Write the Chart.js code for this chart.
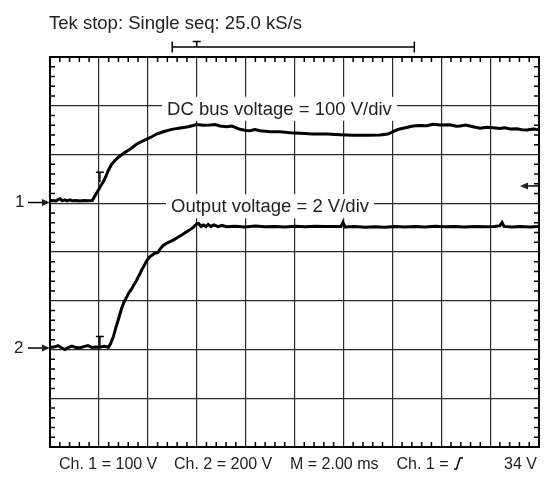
<!DOCTYPE html>
<html>
<head>
<meta charset="utf-8">
<script src="https://cdn.jsdelivr.net/npm/chart.js@4.4.1/dist/chart.umd.min.js"></script>
<style>
  body { margin: 0; background: #fff; }
  #wrap { width: 550px; height: 477px; }
</style>
</head>
<body>
<div id="wrap"><canvas id="scope" width="550" height="477"></canvas></div>
<script>
// Ch. 1: DC bus voltage (V) against time (ms), 2 ms/div
const ch1Time = [0.00, 0.12, 0.25, 0.33, 0.41, 0.49, 0.61, 0.70, 0.82, 0.90, 1.06, 1.23, 1.39, 1.55, 1.73,
  1.84, 1.98, 2.07, 2.18, 2.28, 2.38, 2.52, 2.70, 2.86, 3.07, 3.27, 3.55, 3.82, 4.09, 4.36, 4.63, 4.98,
  5.32, 5.66, 6.00, 6.27, 6.54, 6.75, 6.95, 7.23, 7.44, 7.77, 8.02, 8.18, 8.38, 8.59, 9.00, 9.41, 9.82,
  10.22, 10.76, 11.32, 11.86, 12.39, 12.95, 13.50, 13.82, 14.03, 14.23, 14.44, 14.85, 15.13, 15.42,
  15.66, 15.95, 16.36, 16.61, 16.77, 17.01, 17.30, 17.59, 17.87, 18.12, 18.40, 18.61, 18.81, 19.10,
  19.30, 19.51, 19.75, 20.00];
const ch1Volts = [3.7, 4.1, 3.1, 6.2, 7.6, 3.5, 5.5, 3.3, 5.3, 3.5, 4.1, 3.3, 4.3, 3.7, 4.1,
  13.9, 25.6, 33.8, 42.7, 52.9, 65.2, 78.3, 88.6, 95.4, 103.0, 109.1, 120.0, 126.8, 132.9, 140.5, 145.2, 150.1,
  152.8, 155.5, 160.0, 158.3, 159.0, 160.0, 156.9, 155.5, 156.9, 150.1, 147.7, 147.3, 149.7, 147.3, 145.2, 145.2, 143.2,
  141.9, 140.5, 140.5, 139.1, 137.8, 137.8, 138.4, 140.5, 145.2, 149.7, 152.2, 156.9, 157.9, 157.5,
  160.4, 159.0, 159.4, 156.3, 156.9, 159.0, 155.5, 152.2, 154.2, 153.4, 151.8, 153.2, 150.7, 151.4,
  149.1, 148.7, 150.7, 149.7];

// Ch. 2: output voltage (V) against time (ms)
const ch2Time = [0.00, 0.16, 0.33, 0.45, 0.61, 0.74, 0.90, 1.06, 1.23, 1.39, 1.55, 1.72, 1.88, 2.04, 2.21, 2.39,
  2.47, 2.59, 2.70, 2.79, 2.93, 3.03, 3.14, 3.23, 3.34, 3.44, 3.55, 3.64, 3.75, 3.84, 3.96, 4.09, 4.29,
  4.42, 4.50, 4.63, 4.77, 5.04, 5.32, 5.59, 5.86, 6.00, 6.08, 6.18, 6.27, 6.38, 6.47, 6.58, 6.71, 6.87,
  7.03, 7.23, 7.57, 7.98, 8.39, 8.79, 9.20, 9.61, 10.02, 10.43, 10.84, 11.25, 11.66, 11.90, 11.98, 12.07,
  12.47, 12.88, 13.29, 13.70, 14.11, 14.52, 14.93, 15.34, 15.75, 16.16, 16.56, 16.97, 17.38, 17.79,
  18.20, 18.40, 18.49, 18.57, 18.90, 19.22, 19.63, 20.00];
const ch2Volts = [0.03, 0.04, 0.10, 0.02, -0.06, 0.02, 0.08, 0.02, 0.01, 0.06, 0.10, 0.02, 0.04, 0.03, 0.07, 0.03,
  0.16, 0.46, 0.86, 1.15, 1.63, 1.89, 2.10, 2.28, 2.42, 2.61, 2.79, 2.97, 3.20, 3.36, 3.59, 3.75, 3.89,
  3.92, 4.06, 4.21, 4.30, 4.43, 4.60, 4.77, 4.95, 5.09, 5.11, 4.99, 5.05, 4.98, 5.07, 4.99, 5.05, 4.98,
  5.03, 4.98, 5.00, 4.97, 5.01, 4.98, 4.99, 4.97, 5.00, 4.98, 5.00, 4.99, 4.99, 4.99, 5.15, 4.97,
  4.99, 4.96, 4.98, 4.96, 4.99, 4.97, 4.99, 4.97, 5.00, 4.98, 4.99, 4.97, 4.99, 4.98,
  4.99, 5.02, 5.15, 4.99, 4.97, 4.99, 4.97, 4.99];

// screen: 10 x 8 divisions
const timeRange = [0, 20];          // ms
const ch1Range = [-501.5, 298.5];   // V, 100 V/div
const ch2Range = [-4.06, 11.94];    // V, 2 V/div

const triggerLevel = 34;            // V on Ch. 1
const triggerTime = 6;              // ms
const recordSpan = [5.0, 14.9];     // ms
const cursorTime = 2.04;            // ms
const ch1Cursor = 62;               // V
const ch2Cursor = 0.47;             // V

const headerText = 'Tek stop: Single seq: 25.0 kS/s';
const traceLabels = [
  { text: 'DC bus voltage = 100 V/div', t: 4.79, div: 7 },
  { text: 'Output voltage = 2 V/div', t: 4.95, div: 5 }
];
const footer = [
  { text: 'Ch. 1 = 100 V', x: 59 },
  { text: 'Ch. 2 = 200 V', x: 174 },
  { text: 'M = 2.00 ms', x: 290 },
  { text: 'Ch. 1 = ', x: 396.5, edge: true }
];
const footerLevel = '34 V';

const FONT = '"Liberation Sans", Arial, sans-serif';

function arrowRight(ctx, x0, x1, y) {
  ctx.beginPath();
  ctx.moveTo(x0, y); ctx.lineTo(x1 - 7, y); ctx.stroke();
  ctx.beginPath();
  ctx.moveTo(x1, y); ctx.lineTo(x1 - 8, y - 3.5); ctx.lineTo(x1 - 8, y + 3.5); ctx.closePath(); ctx.fill();
}

function arrowLeft(ctx, x0, x1, y) {
  ctx.beginPath();
  ctx.moveTo(x0 + 7, y); ctx.lineTo(x1, y); ctx.stroke();
  ctx.beginPath();
  ctx.moveTo(x0, y); ctx.lineTo(x0 + 8, y - 3.5); ctx.lineTo(x0 + 8, y + 3.5); ctx.closePath(); ctx.fill();
}

function tMark(ctx, x, y, len) {
  ctx.beginPath();
  ctx.moveTo(x - 4, y); ctx.lineTo(x + 4, y);
  ctx.moveTo(x, y); ctx.lineTo(x, y + len);
  ctx.stroke();
}

const scopeDecor = {
  id: 'scopeDecor',
  beforeDatasetsDraw(chart) {
    const { ctx, chartArea: a, scales: { x, y } } = chart;
    ctx.save();
    ctx.strokeStyle = '#000';
    ctx.lineWidth = 2;
    ctx.strokeRect(a.left, a.top, a.right - a.left, a.bottom - a.top);

    // minor ticks on the frame, 5 per division
    ctx.lineWidth = 1.5;
    ctx.beginPath();
    for (let i = 1; i < 50; i++) {
      if (i % 5 === 0) continue;
      const px = x.getPixelForValue(i * 0.4);
      ctx.moveTo(px, a.top); ctx.lineTo(px, a.top + 5);
      ctx.moveTo(px, a.bottom); ctx.lineTo(px, a.bottom - 5);
    }
    for (let i = 1; i < 40; i++) {
      if (i % 5 === 0) continue;
      const py = y.getPixelForValue(i * 0.2);
      ctx.moveTo(a.left, py); ctx.lineTo(a.left + 5, py);
      ctx.moveTo(a.right, py); ctx.lineTo(a.right - 5, py);
    }
    ctx.stroke();

    // trace labels sitting on the graticule lines
    ctx.font = '18.5px ' + FONT;
    ctx.textBaseline = 'alphabetic';
    traceLabels.forEach(l => {
      const w = ctx.measureText(l.text).width;
      const bx = x.getPixelForValue(l.t);
      const by = y.getPixelForValue(l.div) + 9;
      ctx.fillStyle = '#fff';
      ctx.fillRect(bx - 5, by - 18, w + 10, 24);
      ctx.fillStyle = '#222';
      ctx.fillText(l.text, bx, by);
    });
    ctx.restore();
  },
  afterDraw(chart) {
    const { ctx, chartArea: a, scales: { x, ch1, ch2 } } = chart;
    ctx.save();
    ctx.fillStyle = '#222';
    ctx.strokeStyle = '#000';
    ctx.lineWidth = 1.5;

    ctx.font = '18.5px ' + FONT;
    ctx.textBaseline = 'alphabetic';
    ctx.fillText(headerText, 49, 29);

    // record bar with trigger position
    const bx0 = x.getPixelForValue(recordSpan[0]);
    const bx1 = x.getPixelForValue(recordSpan[1]);
    ctx.beginPath();
    ctx.moveTo(bx0, 47); ctx.lineTo(bx1, 47);
    ctx.moveTo(bx0, 41.5); ctx.lineTo(bx0, 52.5);
    ctx.moveTo(bx1, 41.5); ctx.lineTo(bx1, 52.5);
    ctx.stroke();
    tMark(ctx, x.getPixelForValue(triggerTime), 41.5, 5.5);

    // channel ground markers
    ctx.font = '17px ' + FONT;
    ctx.textBaseline = 'middle';
    const g1 = ch1.getPixelForValue(0);
    const g2 = ch2.getPixelForValue(0);
    ctx.fillText('1', 15, g1);
    ctx.fillText('2', 14, g2);
    arrowRight(ctx, 28, a.left, g1);
    arrowRight(ctx, 28, a.left, g2);

    // trigger level
    arrowLeft(ctx, a.right - 19, a.right, ch1.getPixelForValue(triggerLevel));

    // cursors
    const cx = x.getPixelForValue(cursorTime);
    tMark(ctx, cx, ch1.getPixelForValue(ch1Cursor), 10);
    tMark(ctx, cx, ch2.getPixelForValue(ch2Cursor), 10);

    // readout line
    ctx.font = '16px ' + FONT;
    ctx.textBaseline = 'alphabetic';
    const base = 469;
    footer.forEach(f => {
      ctx.fillText(f.text, f.x, base);
      if (f.edge) {
        const sx = f.x + ctx.measureText(f.text).width + 1;
        ctx.beginPath();
        ctx.moveTo(sx, base); ctx.lineTo(sx + 2.5, base);
        ctx.lineTo(sx + 6, base - 11); ctx.lineTo(sx + 9, base - 11);
        ctx.stroke();
      }
    });
    ctx.textAlign = 'right';
    ctx.fillText(footerLevel, 537, base);
    ctx.restore();
  }
};

const toPoints = (ts, vs) => ts.map((t, i) => ({ x: t, y: vs[i] }));

const gridStyle = { color: '#2a2a2a', lineWidth: 1.2, drawTicks: false };

const scope = new Chart(document.getElementById('scope'), {
  type: 'line',
  data: {
    datasets: [{
      label: 'DC bus voltage',
      data: toPoints(ch1Time, ch1Volts),
      yAxisID: 'ch1',
      borderColor: '#000',
      borderWidth: 3,
      pointRadius: 0,
      tension: 0
    }, {
      label: 'Output voltage',
      data: toPoints(ch2Time, ch2Volts),
      yAxisID: 'ch2',
      borderColor: '#000',
      borderWidth: 3,
      pointRadius: 0,
      tension: 0
    }]
  },
  options: {
    responsive: false,
    animation: false,
    layout: { padding: { left: 50, top: 57, right: 11, bottom: 30 } },
    plugins: { legend: { display: false }, tooltip: { enabled: false } },
    scales: {
      x: {
        type: 'linear', min: timeRange[0], max: timeRange[1],
        ticks: { display: false, stepSize: 2 },
        grid: gridStyle,
        border: { color: '#000', width: 2 }
      },
      y: {
        min: 0, max: 8,
        ticks: { display: false, stepSize: 1 },
        grid: gridStyle,
        border: { color: '#000', width: 2 }
      },
      ch1: { display: false, min: ch1Range[0], max: ch1Range[1] },
      ch2: { display: false, min: ch2Range[0], max: ch2Range[1] }
    }
  },
  plugins: [scopeDecor]
});
</script>
</body>
</html>
